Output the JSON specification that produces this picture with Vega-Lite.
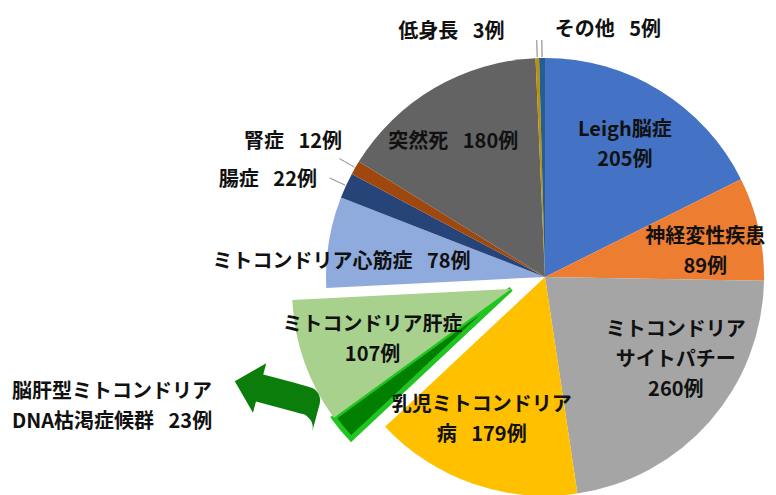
{
  "$schema": "https://vega.github.io/schema/vega-lite/v6.json",
  "autosize": "none",
  "width": 436,
  "height": 436,
  "padding": {"left": 327, "top": 59, "right": 13, "bottom": 0},
  "background": "white",
  "config": {
    "view": {"stroke": null},
    "text": {"font": "Noto Sans CJK JP", "fontSize": 20, "fontWeight": "bold", "color": "#111111", "lineBreak": "\n", "lineHeight": 30, "baseline": "middle"}
  },
  "data": {
    "values": [
      {"order": 1, "name": "Leigh", "value": 205, "label": "Leigh脳症\n205例"},
      {"order": 2, "name": "神経変性", "value": 89, "label": "神経変性疾患\n89例"},
      {"order": 3, "name": "サイトパチー", "value": 260, "label": "ミトコンドリア\nサイトパチー\n260例"},
      {"order": 4, "name": "乳児", "value": 179, "label": "乳児ミトコンドリア\n病\u2002 179例"},
      {"order": 5, "name": "脳肝型", "value": 23, "label": "脳肝型ミトコンドリア\nDNA枯渇症候群\u2002 23例"},
      {"order": 6, "name": "肝症", "value": 107, "label": "ミトコンドリア肝症\n107例"},
      {"order": 7, "name": "心筋症", "value": 78, "label": "ミトコンドリア心筋症\u2002 78例"},
      {"order": 8, "name": "腸症", "value": 22, "label": "腸症\u2002 22例"},
      {"order": 9, "name": "腎症", "value": 12, "label": "腎症\u2002 12例"},
      {"order": 10, "name": "突然死", "value": 180, "label": "突然死\u2002 180例"},
      {"order": 11, "name": "低身長", "value": 3, "label": "低身長\u2002 3例"},
      {"order": 12, "name": "その他", "value": 5, "label": "その他\u2002 5例"}
    ]
  },
  "encoding": {
    "theta": {"field": "value", "type": "quantitative", "stack": true},
    "order": {"field": "order", "type": "quantitative"}
  },
  "layer": [
    {
      "mark": {"type": "arc", "outerRadius": 219},
      "encoding": {
        "color": {
          "field": "name", "type": "nominal", "legend": null,
          "scale": {
            "domain": ["Leigh", "神経変性", "サイトパチー", "乳児", "脳肝型", "肝症", "心筋症", "腸症", "腎症", "突然死", "低身長", "その他"],
            "range": ["#4472C4", "#ED7D31", "#A5A5A5", "#FFC000", "#007F00", "#A9D18E", "#8FAADC", "#264478", "#9E480E", "#636363", "#BF9000", "#255E91"]
          }
        },
        "opacity": {"condition": {"test": "datum.name === '脳肝型' || datum.name === '肝症'", "value": 0}, "value": 1}
      }
    },
    {
      "mark": {"type": "arc", "outerRadius": 219, "xOffset": -34, "yOffset": 12, "stroke": "#22C422", "strokeJoin": "miter"},
      "encoding": {
        "color": {"field": "name", "type": "nominal", "legend": null},
        "opacity": {"condition": {"test": "datum.name === '脳肝型' || datum.name === '肝症'", "value": 1}, "value": 0},
        "strokeWidth": {"condition": {"test": "datum.name === '脳肝型'", "value": 5}, "value": 0}
      }
    },
    {
      "mark": {"type": "arc", "innerRadius": 220, "outerRadius": 237, "padAngle": 0.6, "fillOpacity": 0, "stroke": "#A6A6A6", "strokeWidth": 1},
      "encoding": {
        "strokeOpacity": {"condition": {"test": "indexof(['腸症','腎症','低身長','その他'], datum.name) >= 0", "value": 1}, "value": 0}
      }
    },
    {
      "mark": {"type": "text", "radius": 150, "dx": 1, "dy": -19},
      "encoding": {"text": {"condition": {"test": "datum.name === 'Leigh'", "field": "label"}, "value": ""}}
    },
    {
      "mark": {"type": "text", "radius": 150, "dx": 14, "dy": -7},
      "encoding": {"text": {"condition": {"test": "datum.name === '神経変性'", "field": "label"}, "value": ""}}
    },
    {
      "mark": {"type": "text", "radius": 150, "dx": 18, "dy": -46},
      "encoding": {"text": {"condition": {"test": "datum.name === 'サイトパチー'", "field": "label"}, "value": ""}}
    },
    {
      "mark": {"type": "text", "radius": 150, "dx": -14, "dy": -14},
      "encoding": {"text": {"condition": {"test": "datum.name === '乳児'", "field": "label"}, "value": ""}}
    },
    {
      "mark": {"type": "text", "radius": 150, "dx": -31, "dy": -2},
      "encoding": {"text": {"condition": {"test": "datum.name === '肝症'", "field": "label"}, "value": ""}}
    },
    {
      "mark": {"type": "text", "radius": 190, "dx": -16, "dy": 15},
      "encoding": {"text": {"condition": {"test": "datum.name === '心筋症'", "field": "label"}, "value": ""}}
    },
    {
      "mark": {"type": "text", "radius": 150, "dx": -16, "dy": -6},
      "encoding": {"text": {"condition": {"test": "datum.name === '突然死'", "field": "label"}, "value": ""}}
    },
    {
      "mark": {"type": "text", "radius": 240, "dx": -32, "dy": -5, "align": "right"},
      "encoding": {"text": {"condition": {"test": "datum.name === '低身長'", "field": "label"}, "value": ""}}
    },
    {
      "mark": {"type": "text", "radius": 240, "dx": 13, "dy": -7, "align": "left"},
      "encoding": {"text": {"condition": {"test": "datum.name === 'その他'", "field": "label"}, "value": ""}}
    },
    {
      "mark": {"type": "text", "radius": 240, "dx": 5, "dy": -15, "align": "right"},
      "encoding": {"text": {"condition": {"test": "datum.name === '腎症'", "field": "label"}, "value": ""}}
    },
    {
      "mark": {"type": "text", "radius": 240, "dx": -10, "dy": 3, "align": "right"},
      "encoding": {"text": {"condition": {"test": "datum.name === '腸症'", "field": "label"}, "value": ""}}
    },
    {
      "mark": {"type": "text", "radius": 240, "dx": -348, "dy": -38, "align": "left"},
      "encoding": {"text": {"condition": {"test": "datum.name === '脳肝型'", "field": "label"}, "value": ""}}
    },
    {
      "mark": {"type": "text", "radius": 240, "dx": 89, "dy": 16, "angle": 195, "font": "DejaVu Sans", "fontWeight": "normal", "fontSize": 120, "color": "#0B7D0B"},
      "encoding": {"text": {"condition": {"test": "datum.name === '脳肝型'", "value": "➥"}, "value": ""}}
    }
  ]
}
